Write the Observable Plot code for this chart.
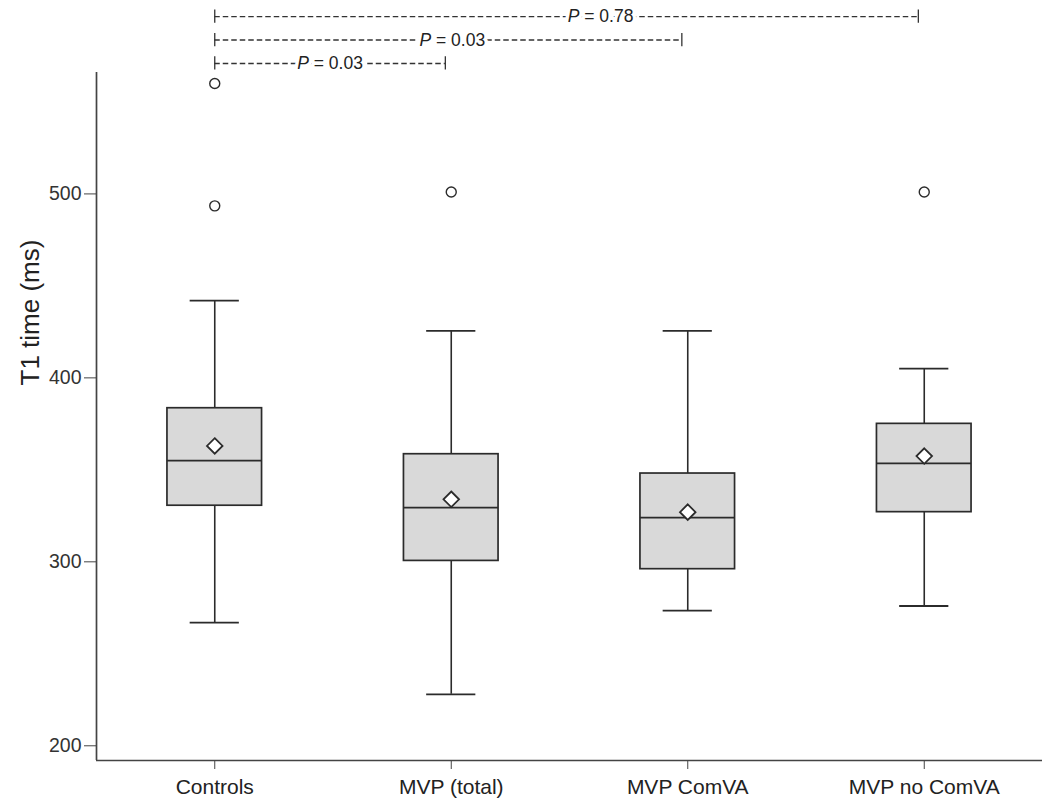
<!DOCTYPE html>
<html>
<head>
<meta charset="utf-8">
<script src="https://cdn.jsdelivr.net/npm/d3@7"></script>
<script src="https://cdn.jsdelivr.net/npm/@observablehq/plot@0.6"></script>
<style>
  html, body { margin: 0; padding: 0; background: #fff; }
  #chart { width: 1050px; height: 812px; }
</style>
</head>
<body>
<div id="chart"></div>
<script>
// ---- data ----
const categories   = ["Controls", "MVP (total)", "MVP ComVA", "MVP no ComVA"];
const whiskerLow   = [267, 228, 273.5, 276];
const q1           = [330.5, 300.5, 296, 327];
const median       = [355, 329.5, 324, 353.5];
const q3           = [383.5, 358.5, 348, 375];
const whiskerHigh  = [442, 425.5, 425.5, 405];
const means        = [363, 334, 327, 357.5];
const outlierGroup = [0, 0, 1, 3];
const outlierValue = [493.5, 560, 501, 501];
const bracketFrom  = [0, 0, 0];
const bracketTo    = [3, 2, 1];
const bracketLabel = ["P = 0.78", "P = 0.03", "P = 0.03"];
const yTicks       = [200, 300, 400, 500];

// ---- tables built from the arrays ----
const boxes = categories.map((c, i) => ({
  i, name: c, lo: whiskerLow[i], q1: q1[i], med: median[i], q3: q3[i], hi: whiskerHigh[i], mean: means[i]
}));
const outliers = outlierGroup.map((g, k) => ({i: g, v: outlierValue[k]}));
const brackets = bracketFrom.map((f, k) => ({from: f, to: bracketTo[k], label: bracketLabel[k], level: k}));

const BOX = 0.2, CAP = 0.104, END = 0.025;
const topY = 596.4, stepY = 12.75, endTick = 3.6;
brackets.forEach(b => { b.y = topY - b.level * stepY; });

const ink = "#2b2b2b";

const chart = Plot.plot({
  width: 1050,
  height: 812,
  marginLeft: 96,
  marginRight: 8,
  marginTop: 72,
  marginBottom: 52,
  style: {fontFamily: "'Liberation Sans', Arial, sans-serif", background: "white", color: ink},
  x: {type: "linear", domain: [-0.5, 3.5], axis: null},
  y: {domain: [192, 566], axis: null},
  marks: [
    // axes
    Plot.axisY({ticks: yTicks, tickSize: 12, tickPadding: 3, fontSize: 19.5, label: null, stroke: "#444", fill: "#333"}),
    Plot.axisX({ticks: [0, 1, 2, 3], tickFormat: i => categories[i], tickSize: 9, tickPadding: 10, fontSize: 21, label: null, stroke: "#444", fill: "#222"}),
    Plot.ruleX([-0.5], {stroke: "#444", strokeWidth: 1.7}),
    Plot.ruleY([192], {stroke: "#444", strokeWidth: 1.7}),
    Plot.text(["T1 time (ms)"], {frameAnchor: "left", rotate: -90, dx: -66, dy: -31, fontSize: 26, fill: "#222"}),
    // whiskers
    Plot.ruleX(boxes, {x: "i", y1: "lo", y2: "q1", stroke: ink, strokeWidth: 1.6}),
    Plot.ruleX(boxes, {x: "i", y1: "q3", y2: "hi", stroke: ink, strokeWidth: 1.6}),
    Plot.ruleY(boxes, {y: "lo", x1: d => d.i - CAP, x2: d => d.i + CAP, stroke: ink, strokeWidth: 1.8}),
    Plot.ruleY(boxes, {y: "hi", x1: d => d.i - CAP, x2: d => d.i + CAP, stroke: ink, strokeWidth: 1.8}),
    // boxes
    Plot.rect(boxes, {x1: d => d.i - BOX, x2: d => d.i + BOX, y1: "q1", y2: "q3", fill: "#d9d9d9", stroke: ink, strokeWidth: 1.7}),
    Plot.ruleY(boxes, {y: "med", x1: d => d.i - BOX, x2: d => d.i + BOX, stroke: ink, strokeWidth: 1.7}),
    // mean
    Plot.dot(boxes, {x: "i", y: "mean", symbol: "diamond2", r: 7, fill: "white", stroke: ink, strokeWidth: 1.8}),
    // outliers
    Plot.dot(outliers, {x: "i", y: "v", r: 5, fill: "white", stroke: ink, strokeWidth: 1.4}),
    // significance brackets
    Plot.ruleY(brackets, {y: "y", x1: "from", x2: d => d.to - END, stroke: "#333", strokeWidth: 1.4, strokeDasharray: "5.5,3"}),
    Plot.ruleX(brackets, {x: "from", y1: d => d.y - endTick, y2: d => d.y + endTick, stroke: "#333", strokeWidth: 1.3}),
    Plot.ruleX(brackets, {x: d => d.to - END, y1: d => d.y - endTick, y2: d => d.y + endTick, stroke: "#333", strokeWidth: 1.3}),
    ...brackets.map((b, k) => Plot.text([b], {
      x: d => (d.from + d.to - END) / 2, y: "y", text: "label",
      dx: k === 0 ? 34 : (k === 1 ? 4 : 0),
      fontSize: 17.5, fill: "#222", stroke: "white", strokeWidth: 7
    }))
  ]
});

// italicise the "P" in the p-value labels
d3.select(chart).selectAll("text").each(function () {
  const t = this.textContent;
  if (t.startsWith("P = ")) {
    const sel = d3.select(this);
    sel.text(null);
    sel.append("tspan").attr("font-style", "italic").text("P");
    sel.append("tspan").text(t.slice(1));
  }
});

document.getElementById("chart").appendChild(chart);
</script>
</body>
</html>
